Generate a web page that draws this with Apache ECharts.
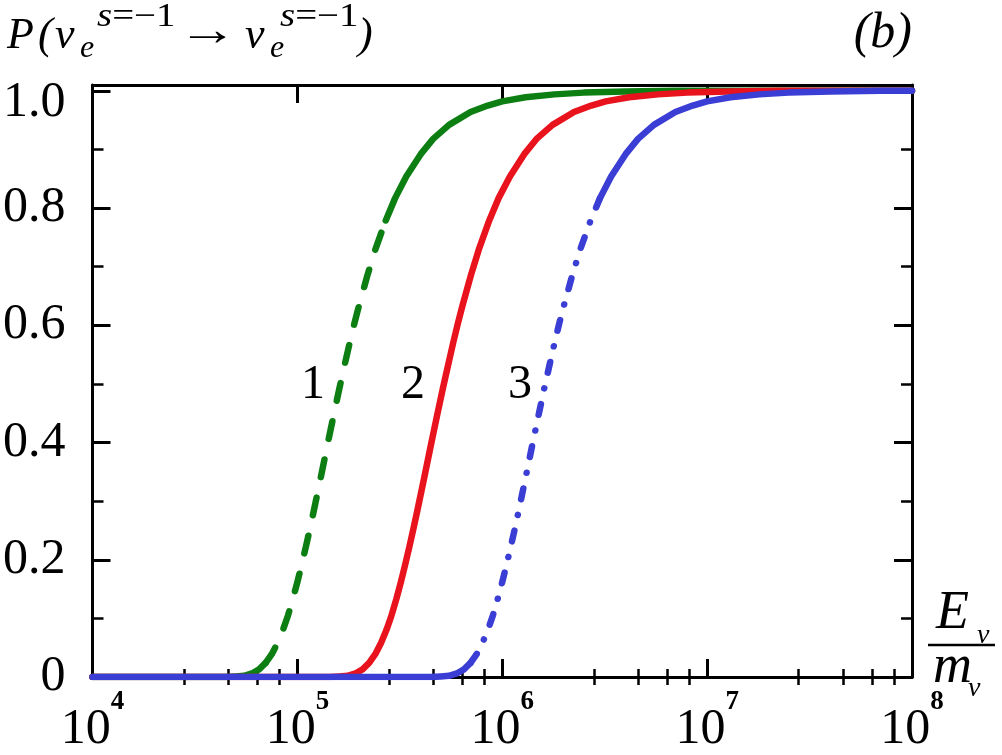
<!DOCTYPE html>
<html><head><meta charset="utf-8">
<script src="https://cdn.jsdelivr.net/npm/echarts@6/dist/echarts.min.js"></script>
<style>html,body{margin:0;padding:0;background:#fff}#c{width:1002px;height:755px}</style>
</head><body><div id="c"></div>
<script>
// ---- data ----
const xTickExponents = [4, 5, 6, 7, 8];
const xMinorTickValues = [2.8e4, 4.6e4, 6.4e4, 8.2e4, 2.8e5, 4.6e5, 6.4e5, 8.2e5,
                          2.8e6, 4.6e6, 6.4e6, 8.2e6, 2.8e7, 4.6e7, 6.4e7, 8.2e7];
const yTickValues = [0, 0.2, 0.4, 0.6, 0.8, 1.0];

// curve 1 (green, dashed in the middle)
const curve1E = [1e4, 3e4, 4.5e4, 5e4, 5.5e4, 6e4, 6.5e4, 7e4, 7.5e4, 8e4, 8.5e4, 9e4, 9.5e4, 1e5, 1.05e5, 1.1e5, 1.15e5, 1.2e5, 1.3e5, 1.4e5, 1.5e5, 1.6e5, 1.7e5, 1.8e5, 1.9e5, 2e5, 2.2e5, 2.4e5, 2.7e5, 3e5, 3.4e5, 4e5, 4.6e5, 5.5e5, 7e5, 8.5e5, 1e6, 1.3e6, 1.8e6, 2.5e6, 4e6, 7e6, 1e8];
const curve1P = [0, 0, 0, 0.001, 0.002, 0.006, 0.013, 0.024, 0.039, 0.058, 0.080, 0.105, 0.133, 0.162, 0.192, 0.222, 0.252, 0.282, 0.340, 0.395, 0.445, 0.491, 0.532, 0.570, 0.604, 0.634, 0.686, 0.729, 0.779, 0.817, 0.854, 0.892, 0.918, 0.942, 0.964, 0.975, 0.982, 0.989, 0.994, 0.997, 0.999, 1.0, 1.0];

// curve 2 (red, solid)
const curve2E = [1e4, 1e5, 1.44e5, 1.6e5, 1.76e5, 1.92e5, 2.08e5, 2.24e5, 2.4e5, 2.56e5, 2.72e5, 2.88e5, 3.04e5, 3.2e5, 3.36e5, 3.52e5, 3.68e5, 3.84e5, 4.16e5, 4.48e5, 4.8e5, 5.12e5, 5.44e5, 5.76e5, 6.08e5, 6.4e5, 7.04e5, 7.68e5, 8.64e5, 9.6e5, 1.09e6, 1.28e6, 1.47e6, 1.76e6, 2.24e6, 2.72e6, 3.2e6, 4.16e6, 5.76e6, 8e6, 1.28e7, 2.24e7, 1e8];
const curve2P = [0, 0, 0, 0.001, 0.002, 0.006, 0.013, 0.024, 0.039, 0.058, 0.080, 0.105, 0.133, 0.162, 0.192, 0.222, 0.252, 0.282, 0.340, 0.395, 0.445, 0.491, 0.532, 0.570, 0.604, 0.634, 0.686, 0.729, 0.779, 0.817, 0.854, 0.892, 0.918, 0.942, 0.964, 0.975, 0.982, 0.989, 0.994, 0.997, 0.999, 1.0, 1.0];

// curve 3 (blue, dash-dot in the middle)
const curve3E = [1e4, 3e5, 4.5e5, 5e5, 5.5e5, 6e5, 6.5e5, 7e5, 7.5e5, 8e5, 8.5e5, 9e5, 9.5e5, 1e6, 1.05e6, 1.1e6, 1.15e6, 1.2e6, 1.3e6, 1.4e6, 1.5e6, 1.6e6, 1.7e6, 1.8e6, 1.9e6, 2e6, 2.2e6, 2.4e6, 2.7e6, 3e6, 3.4e6, 4e6, 4.6e6, 5.5e6, 7e6, 8.5e6, 1e7, 1.3e7, 1.8e7, 2.5e7, 4e7, 7e7, 1e8];
const curve3P = [0, 0, 0, 0.001, 0.002, 0.006, 0.013, 0.024, 0.039, 0.058, 0.080, 0.105, 0.133, 0.162, 0.192, 0.222, 0.252, 0.282, 0.340, 0.395, 0.445, 0.491, 0.532, 0.570, 0.604, 0.634, 0.686, 0.729, 0.779, 0.817, 0.854, 0.892, 0.918, 0.942, 0.964, 0.975, 0.982, 0.989, 0.994, 0.997, 0.999, 1.0, 1.0];

// index ranges of the broken (dashed / dash-dot) parts
const curve1Dashed = [7, 28];
const curve3DashDot = [7, 29];

// ---- chart ----
const FONT = '"Liberation Serif", "Times New Roman", serif';
const GREEN = '#0d7f12', RED = '#e8131d', BLUE = '#3a3ed4';

function pts(E, P, a, b) { const o = []; for (let i = a; i <= b; i++) o.push([E[i], P[i]]); return o; }
function seg(E, P, a, b, color, type, z) {
  return { type: 'line', data: pts(E, P, a, b), symbol: 'none', showSymbol: false,
    smooth: false, silent: true, animation: false, z: z, xAxisIndex: 0, yAxisIndex: 0,
    lineStyle: { color: color, width: 6.5, type: type, cap: 'round', join: 'round' } };
}

const tickBase = {
  axisLine: { show: true, onZero: false, lineStyle: { color: '#000', width: 3 } },
  axisTick: { show: true, inside: true, length: 18, lineStyle: { color: '#000', width: 3 } },
  splitLine: { show: false }
};
const yMinor = { show: true, splitNumber: 2, length: 11, lineStyle: { color: '#000', width: 2.5 } };
const xMinorLog = xMinorTickValues.map(v => Math.log10(v));
function minorXAxis(pos) {
  return { type: 'value', min: 4, max: 8, position: pos, splitLine: { show: false },
    axisLine: { show: false }, axisLabel: { show: false },
    axisTick: { show: true, inside: true, length: 8, customValues: xMinorLog, lineStyle: { color: '#000', width: 2.5 } } };
}

function yFmt(v) {
  for (const t of yTickValues) if (Math.abs(v - t) < 1e-6) {
    if (t === 0) return '0';
    if (t === 1) return '{t|1.0}';
    return t.toFixed(1);
  }
  return '';
}
function xFmt(v) {
  const e = Math.round(Math.log10(v));
  return xTickExponents.indexOf(e) >= 0 ? '{a|10}{b|' + e + '}' : '';
}

const option = {
  backgroundColor: '#fff',
  animation: false,
  grid: { left: 89, right: 90, top: 85, bottom: 75, containLabel: false },
  xAxis: [
    Object.assign({}, tickBase, { type: 'log', logBase: 10, min: 1e4, max: 1e8, position: 'bottom',
      axisLabel: { show: true, margin: 12, formatter: xFmt, color: '#000',
        rich: { a: { fontFamily: FONT, fontSize: 50, color: '#000', lineHeight: 66, verticalAlign: 'bottom' },
                b: { fontFamily: FONT, fontSize: 27, fontWeight: 'bold', color: '#000', lineHeight: 30, verticalAlign: 'top' } } } }),
    Object.assign({}, tickBase, { type: 'log', logBase: 10, min: 1e4, max: 1e8, position: 'top',
      axisLabel: { show: false } }),
    minorXAxis('bottom'),
    minorXAxis('top')
  ],
  yAxis: [
    Object.assign({}, tickBase, { type: 'value', min: 0, max: 1.01, interval: 0.2, position: 'left',
      minorTick: yMinor,
      axisLabel: { show: true, margin: 27, formatter: yFmt, fontFamily: FONT, fontSize: 50, color: '#000',
        rich: { t: { fontFamily: FONT, fontSize: 50, color: '#000', padding: [24, 0, 0, 0] } } } }),
    Object.assign({}, tickBase, { type: 'value', min: 0, max: 1.01, interval: 0.2, position: 'right',
      minorTick: yMinor, axisLabel: { show: false } })
  ],
  series: [
    seg(curve1E, curve1P, 0, curve1Dashed[0], GREEN, 'solid', 2),
    seg(curve1E, curve1P, curve1Dashed[0], curve1Dashed[1], GREEN, [18, 21], 2),
    seg(curve1E, curve1P, curve1Dashed[1], curve1E.length - 1, GREEN, 'solid', 2),
    seg(curve2E, curve2P, 0, curve2E.length - 1, RED, 'solid', 3),
    seg(curve3E, curve3P, 0, curve3DashDot[0], BLUE, 'solid', 4),
    seg(curve3E, curve3P, curve3DashDot[0], curve3DashDot[1], BLUE, [11, 16, 0.1, 16], 4),
    seg(curve3E, curve3P, curve3DashDot[1], curve3E.length - 1, BLUE, 'solid', 4)
  ],
  graphic: [
    t(7, 36, 'P', 'italic 44px'),
    t(38, 36, '(', 'italic 44px'),
    t(55, 36, 'ν', 'italic 44px'),
    t(80, 49, 'e', 'italic 32px'),
    r(97, 17, '{i|s}=−1', 33, 1.18),
    { type: 'text', x: 208, y: 33, scaleX: 1.3, silent: true, style: { text: '→', font: '46px ' + FONT, fill: '#000', textAlign: 'center', textVerticalAlign: 'middle', align: 'center', verticalAlign: 'middle' } },
    t(245, 36, 'ν', 'italic 44px'),
    t(270, 49, 'e', 'italic 32px'),
    r(280, 17, '{i|s}=−1', 33, 1.18),
    t(358, 36, ')', 'italic 44px'),
    { type: 'text', x: 912, y: 34, silent: true, style: { text: '(b)', font: 'italic 50px ' + FONT, fill: '#000', textAlign: 'right', textVerticalAlign: 'middle', align: 'right', verticalAlign: 'middle' } },
    t(936, 614, 'E', 'italic 54px'),
    t(977, 636, 'ν', 'italic 28px'),
    { type: 'line', silent: true, shape: { x1: 928, y1: 645, x2: 995, y2: 645 }, style: { stroke: '#000', lineWidth: 2.5 } },
    t(933, 668, 'm', 'italic 54px'),
    t(968, 689, 'ν', 'italic 28px'),
    c(313, 385, '1'), c(413, 385, '2'), c(520, 385, '3')
  ]
};
function t(x, y, s, f) {
  return { type: 'text', x: x, y: y, silent: true, style: { text: s, font: f + ' ' + FONT, fill: '#000', textAlign: 'left', textVerticalAlign: 'middle', align: 'left', verticalAlign: 'middle' } };
}
function r(x, y, s, size, sx) {
  return { type: 'text', x: x, y: y, scaleX: sx, silent: true, style: { text: s, font: size + 'px ' + FONT, fill: '#000', textAlign: 'left', textVerticalAlign: 'middle', align: 'left', verticalAlign: 'middle',
    rich: { i: { font: 'italic ' + size + 'px ' + FONT, fill: '#000' } } } };
}
function c(x, y, s) {
  return { type: 'text', x: x, y: y, silent: true, style: { text: s, font: '48px ' + FONT, fill: '#000', textAlign: 'center', textVerticalAlign: 'middle', align: 'center', verticalAlign: 'middle' } };
}
const chart = echarts.init(document.getElementById('c'), null, { renderer: 'canvas' });
chart.setOption(option);
</script>
</body></html>
